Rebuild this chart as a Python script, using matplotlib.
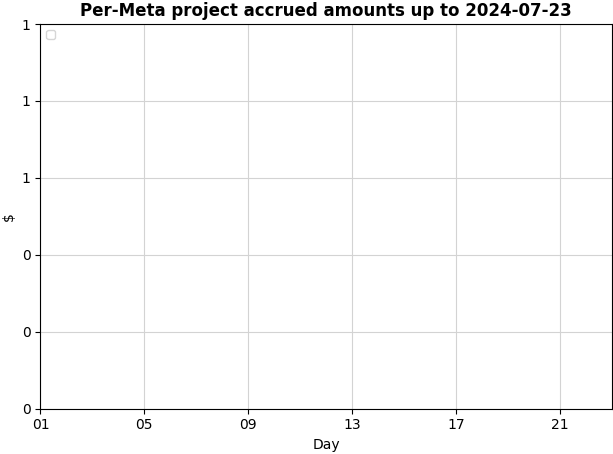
import matplotlib
matplotlib.use("Agg")
import matplotlib.pyplot as plt
import matplotlib.dates as mdates
from matplotlib.ticker import FormatStrFormatter
import datetime as dt

# Data (the reference chart has no series)
days = []
amounts = []
start_date = dt.date(2024, 7, 1)
end_date = dt.date(2024, 7, 23)
tick_days = [1, 5, 9, 13, 17, 21]
title = "Per-Meta project accrued amounts up to 2024-07-23"

fig, ax = plt.subplots(figsize=(6.13, 4.54), dpi=100)
if days:
    ax.plot(days, amounts)
ax.set_xlim(start_date, end_date)
ax.set_ylim(0, 1)
ax.yaxis.set_major_formatter(FormatStrFormatter('%.0f'))
ax.xaxis.set_major_locator(mdates.DayLocator(bymonthday=tick_days))
ax.xaxis.set_major_formatter(mdates.DateFormatter('%d'))
ax.grid(True, color='#d3d3d3', linewidth=0.8)
ax.set_axisbelow(True)
ax.set_title(title, fontweight='bold', fontsize=12)
ax.set_xlabel("Day")
ax.set_ylabel(r"\$")
ax.legend(loc='upper left', fontsize='small')
fig.subplots_adjust(left=0.066, right=0.998, top=0.947, bottom=0.1)
fig.savefig("out.png", dpi=100)
